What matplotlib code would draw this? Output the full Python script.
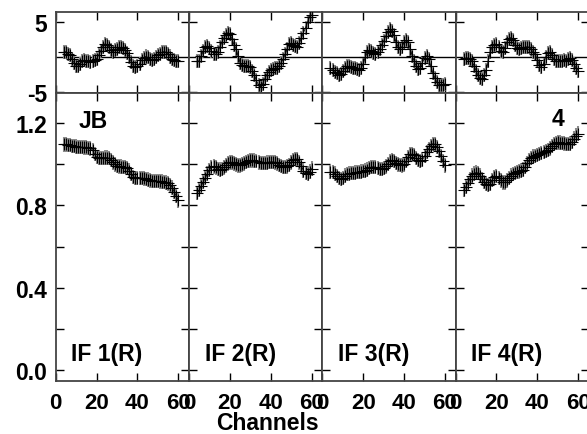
import numpy as np
import matplotlib
matplotlib.use("Agg")
import matplotlib.pyplot as plt

plt.rcParams['font.family'] = ['Liberation Sans', 'DejaVu Sans']
plt.rcParams['font.weight'] = 'bold'

channels = list(range(4, 61))

phase_if1 = [0.7, 0.8, 0.5, 0.3, -0.3, -0.8, -1.2, -1.3, -1.0, -0.6, -0.4, -0.6, -0.5, -0.7, -0.6, -0.4,
             -0.2, 0.3, 0.9, 1.5, 1.9, 1.8, 1.4, 1.0, 0.8, 1.0, 1.2, 1.4, 1.4, 1.3, 1.0, 0.6, 0.0, -0.7,
             -1.2, -1.4, -1.3, -0.9, -0.4, -0.1, 0.1, 0.0, -0.2, -0.4, -0.3, 0.0, 0.3, 0.5, 0.7, 0.8, 0.7,
             0.4, 0.1, -0.2, -0.4, -0.5, -0.5]
phase_if2 = [-0.6, -0.5, 0.2, 0.9, 1.4, 1.6, 1.3, 0.9, 0.5, 0.4, 0.7, 1.4, 2.1, 2.7, 3.2, 3.5, 3.3, 2.6,
             1.8, 1.2, 0.2, -0.8, -1.1, -1.2, -1.2, -1.3, -1.4, -1.9, -2.6, -3.3, -4.0, -4.2, -3.8, -3.1,
             -2.5, -2.1, -1.8, -1.7, -1.6, -1.5, -1.2, -0.8, -0.3, 0.4, 1.2, 1.9, 2.0, 1.8, 1.6, 1.5, 2.0,
             2.8, 3.5, 4.2, 5.0, 5.8, 6.0]
phase_if3 = [-1.6, -1.8, -2.1, -2.3, -2.5, -2.4, -2.0, -1.6, -1.3, -1.3, -1.4, -1.5, -1.6, -1.7, -1.8,
             -1.6, -0.9, 0.0, 0.7, 1.0, 0.9, 0.6, 0.5, 0.7, 1.2, 1.8, 2.3, 3.0, 3.6, 4.0, 3.8, 3.1, 2.2,
             1.5, 1.2, 1.5, 2.1, 2.4, 2.1, 1.2, 0.2, -0.6, -1.3, -1.7, -1.5, -0.8, -0.1, 0.2, -0.3, -1.2,
             -2.2, -2.9, -3.5, -3.9, -4.0, -3.9, -3.8]
phase_if4 = [-0.2, -0.1, -0.1, -0.2, -0.6, -1.2, -1.9, -2.6, -3.0, -3.1, -2.6, -1.8, -0.6, 0.8, 1.5, 1.8,
             1.9, 1.4, 0.9, 0.7, 1.3, 2.1, 2.6, 2.8, 2.4, 1.8, 1.3, 1.2, 1.3, 1.4, 1.4, 1.5, 1.4, 1.1, 0.7,
             0.4, -0.4, -1.1, -1.4, -0.9, 0.0, 0.6, 0.7, 0.3, -0.2, -0.5, -0.6, -0.6, -0.5, -0.4, -0.5,
             -0.3, -0.1, -0.4, -1.0, -1.6, -1.9]

amp_if1 = [1.097, 1.097, 1.095, 1.093, 1.090, 1.088, 1.086, 1.085, 1.084, 1.083, 1.082, 1.082, 1.080,
           1.078, 1.070, 1.050, 1.035, 1.030, 1.030, 1.032, 1.033, 1.033, 1.030, 1.022, 1.010, 1.000,
           0.993, 0.990, 0.989, 0.988, 0.987, 0.982, 0.970, 0.952, 0.940, 0.935, 0.934, 0.934, 0.933,
           0.932, 0.930, 0.926, 0.922, 0.920, 0.919, 0.918, 0.918, 0.917, 0.916, 0.914, 0.911, 0.907,
           0.900, 0.887, 0.865, 0.845, 0.825]
amp_if2 = [0.860, 0.875, 0.895, 0.915, 0.935, 0.955, 0.972, 0.985, 0.990, 0.985, 0.978, 0.975, 0.978,
           0.985, 0.995, 1.005, 1.010, 1.010, 1.005, 1.000, 0.995, 0.995, 1.000, 1.005, 1.012, 1.017,
           1.019, 1.019, 1.018, 1.015, 1.010, 1.007, 1.006, 1.007, 1.009, 1.011, 1.012, 1.012, 1.010,
           1.005, 0.998, 0.992, 0.988, 0.987, 0.990, 0.998, 1.010, 1.020, 1.027, 1.025, 1.010, 0.990,
           0.970, 0.958, 0.955, 0.965, 0.979]
amp_if3 = [0.963, 0.962, 0.955, 0.942, 0.933, 0.930, 0.935, 0.945, 0.952, 0.955, 0.957, 0.958, 0.960,
           0.962, 0.963, 0.965, 0.968, 0.970, 0.975, 0.982, 0.987, 0.988, 0.986, 0.982, 0.978, 0.978,
           0.982, 0.990, 1.003, 1.015, 1.020, 1.017, 1.008, 1.000, 0.996, 0.995, 1.000, 1.015, 1.035,
           1.048, 1.050, 1.045, 1.032, 1.020, 1.017, 1.022, 1.040, 1.060, 1.075, 1.090, 1.100, 1.098,
           1.085, 1.065, 1.040, 1.015, 0.995]
amp_if4 = [0.875, 0.890, 0.910, 0.930, 0.945, 0.955, 0.960, 0.958, 0.945, 0.928, 0.915, 0.905, 0.900,
           0.905, 0.925, 0.940, 0.943, 0.935, 0.922, 0.912, 0.912, 0.922, 0.935, 0.945, 0.952, 0.958,
           0.962, 0.966, 0.970, 0.975, 0.988, 1.005, 1.022, 1.032, 1.038, 1.042, 1.046, 1.050, 1.055,
           1.060, 1.065, 1.070, 1.078, 1.088, 1.098, 1.105, 1.107, 1.106, 1.104, 1.102, 1.100, 1.100,
           1.101, 1.110, 1.125, 1.140, 1.150]

phase_err = 1.0
amp_err = 0.035

phases = [phase_if1, phase_if2, phase_if3, phase_if4]
amps = [amp_if1, amp_if2, amp_if3, amp_if4]
if_labels = ["IF 1(R)", "IF 2(R)", "IF 3(R)", "IF 4(R)"]
x_ticks = [0, 20, 40, 60]
amp_ticks = [0.0, 0.2, 0.4, 0.6, 0.8, 1.0, 1.2]
amp_ticklabels = ["0.0", "", "0.4", "", "0.8", "", "1.2"]
phase_ticks = [-5, 5]

W, H = 587, 435
fig = plt.figure(figsize=(W / 100, H / 100), dpi=100)

left_px = 55.7
pw_px = 133.3
top_top, top_bot = 13.3, 94.0
bot_bot = 381.7
FS = 16.5
FSX = 16
spine_c = '#444444'


def style(ax):
    for s in ax.spines.values():
        s.set_color(spine_c)
        s.set_linewidth(1.3)
    ax.tick_params(direction='in', top=True, right=True, length=6, width=1.0,
                   color='black', labelsize=FS)


for i in range(4):
    x0 = (left_px + i * pw_px) / W
    wf = pw_px / W
    # phase panel
    axp = fig.add_axes([x0, 1 - top_bot / H, wf, (top_bot - top_top) / H])
    axp.axhline(0, color='black', lw=1.0, zorder=1)
    axp.errorbar(channels, phases[i], yerr=phase_err, fmt='none', ecolor='#8c8c8c',
                 elinewidth=1.5, zorder=2)
    axp.plot(channels, phases[i], color='black', lw=0.6, marker='+', ms=9, mew=0.8, zorder=3)
    axp.set_xlim(0, 65.2)
    axp.set_ylim(-5.1, 6.4)
    axp.set_xticks(x_ticks)
    axp.set_xticklabels([])
    axp.set_yticks(phase_ticks)
    style(axp)
    if i == 0:
        axp.set_yticklabels(["-5", "5"], fontweight='bold')
        axp.tick_params(axis='y', pad=6)
    else:
        axp.set_yticklabels([])

    # amplitude panel
    axa = fig.add_axes([x0, 1 - bot_bot / H, wf, (bot_bot - top_bot) / H])
    axa.errorbar(channels, amps[i], yerr=amp_err, fmt='none', ecolor='#8c8c8c',
                 elinewidth=1.5, zorder=2)
    axa.plot(channels, amps[i], color='black', lw=0.6, marker='+', ms=9, mew=0.8, zorder=3)
    axa.set_xlim(0, 65.2)
    axa.set_ylim(-0.052, 1.347)
    axa.set_xticks(x_ticks)
    axa.set_xticklabels([str(t) for t in x_ticks], fontweight='bold', fontsize=FSX)
    axa.set_yticks(amp_ticks)
    style(axa)
    axa.tick_params(axis='x', pad=8, labelsize=FSX)
    if i == 0:
        axa.set_yticklabels(amp_ticklabels, fontweight='bold')
        axa.tick_params(axis='y', pad=6)
    else:
        axa.set_yticklabels([])
    axa.text(0.385, 0.095, if_labels[i], transform=axa.transAxes, ha='center', va='center',
             fontsize=FS, fontweight='bold')
    if i == 0:
        axa.text(0.28, 0.905, "JB", transform=axa.transAxes, ha='center', va='center',
                 fontsize=FS, fontweight='bold')
    if i == 3:
        axa.text(0.77, 0.91, "4", transform=axa.transAxes, ha='center', va='center',
                 fontsize=FS, fontweight='bold')

fig.text(267 / W, 1 - 424 / H, "Channels", ha='center', va='center', fontsize=FS,
         fontweight='bold')

fig.savefig("out.png", dpi=100)
